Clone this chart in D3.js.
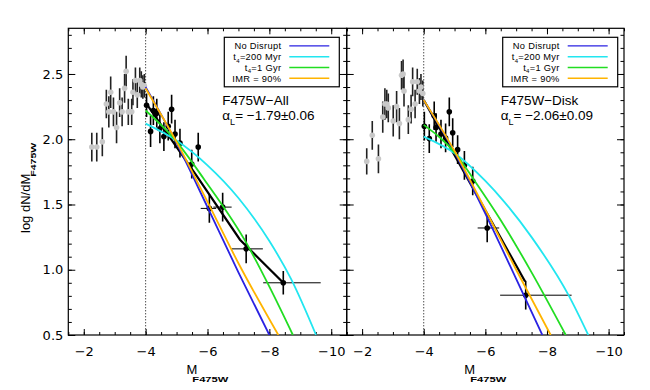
<!DOCTYPE html>
<html>
<head>
<meta charset="utf-8">
<script src="https://cdn.jsdelivr.net/npm/d3@7"></script>
<style>
  body { margin: 0; background: #fff; }
  text { font-family: "Liberation Sans", Arial, sans-serif; fill: #000; }
  .tick text { font-family: "DejaVu Sans", sans-serif; font-size: 13px; }
</style>
</head>
<body>
<div id="chart"></div>
<script>
"use strict";

// ---- axis ticks ----
var xMajorTicks = [-2, -4, -6, -8, -10];
var yMajorTicks = [0.5, 1.0, 1.5, 2.0, 2.5];

// ---- legend ----
var modelLabels = [["No Disrupt"], ["t", "4", "=200 Myr"], ["t", "4", "=1 Gyr"], ["IMR = 90%"]];
var modelColors = ["#2a22e2", "#22e6f0", "#22dd22", "#ffb400"];

// ---- F475W-All panel ----
var allGrayM   = [-2.26, -2.42, -2.60, -2.73, -2.81, -2.87, -2.96, -3.06, -3.16, -3.24, -3.32, -3.37, -3.44, -3.55, -3.59, -3.67, -3.73, -3.81, -3.86, -3.91, -3.96];
var allGrayLog = [1.94, 1.94, 1.98, 2.27, 2.21, 2.36, 2.21, 2.09, 2.28, 2.21, 2.39, 2.52, 2.21, 2.21, 2.36, 2.45, 2.34, 2.45, 2.42, 2.40, 2.41];
var allGrayErr = [0.11, 0.11, 0.11, 0.11, 0.12, 0.12, 0.11, 0.12, 0.11, 0.11, 0.11, 0.12, 0.10, 0.10, 0.10, 0.10, 0.10, 0.10, 0.10, 0.09, 0.09];

var allBlackM   = [-4.03, -4.16, -4.25, -4.36, -4.46, -4.59, -4.73, -4.84, -4.95, -5.11, -5.49, -5.70, -6.06, -6.49, -7.25, -8.45];
var allBlackLog = [2.26, 2.06, 2.22, 2.20, 2.08, 2.02, 2.10, 2.23, 2.04, 1.97, 1.81, 1.94, 1.47, 1.48, 1.16, 0.90];
var allBlackErr = [0.09, 0.12, 0.11, 0.11, 0.11, 0.11, 0.11, 0.11, 0.11, 0.11, 0.11, 0.11, 0.11, 0.11, 0.11, 0.09];
var allBinLo    = [null, null, null, null, null, null, null, null, null, null, null, null, -5.78, -6.19, -6.78, -7.80];
var allBinHi    = [null, null, null, null, null, null, null, null, null, null, null, null, -6.28, -6.78, -7.79, -9.66];

var allFit        = [[-4, 2.28], [-5.65, 1.72], [-7.05, 1.23], [-8.45, 0.90]];
var allNoDisrupt  = [[-4, 2.40], [-5, 1.97], [-6, 1.48], [-7, 0.98], [-8.0, 0.5]];
var allT200Myr    = [[-4, 2.12], [-5, 1.99], [-6, 1.80], [-7, 1.55], [-8, 1.22], [-8.7, 0.93], [-9.51, 0.5]];
var allT1Gyr      = [[-4, 2.22], [-4.9, 2.01], [-5.9, 1.69], [-7.27, 1.20], [-8.0, 0.87], [-8.76, 0.5]];
var allIMR90      = [[-4, 2.39], [-5, 1.98], [-6, 1.52], [-7, 1.05], [-8.29, 0.5]];

// ---- F475W-Disk panel ----
var diskGrayM   = [-2.15, -2.33, -2.53, -2.67, -2.74, -2.80, -2.85, -3.01, -3.12, -3.21, -3.28, -3.33, -3.36, -3.50, -3.59, -3.64, -3.72, -3.79, -3.86, -3.91, -3.97];
var diskGrayLog = [1.83, 2.03, 1.85, 2.17, 2.27, 2.27, 2.24, 2.14, 2.25, 2.12, 2.49, 2.50, 2.37, 2.15, 2.23, 2.44, 2.27, 2.44, 2.37, 2.40, 2.35];
var diskGrayErr = [0.10, 0.11, 0.11, 0.12, 0.12, 0.11, 0.11, 0.12, 0.12, 0.12, 0.11, 0.11, 0.12, 0.11, 0.11, 0.11, 0.11, 0.10, 0.10, 0.10, 0.10];

var diskBlackM   = [-4.02, -4.18, -4.34, -4.40, -4.56, -4.71, -4.83, -4.94, -5.10, -5.32, -5.59, -6.06, -7.31];
var diskBlackLog = [2.10, 2.005, 2.18, 2.09, 2.04, 2.01, 2.21, 2.05, 1.92, 1.80, 1.68, 1.32, 0.805];
var diskBlackErr = [0.11, 0.11, 0.11, 0.11, 0.11, 0.11, 0.11, 0.11, 0.11, 0.11, 0.11, 0.11, 0.11];
var diskBinLo    = [null, null, null, null, null, null, null, null, null, null, null, -5.75, -6.48];
var diskBinHi    = [null, null, null, null, null, null, null, null, null, null, null, -6.45, -8.80];

var diskFit       = [[-4, 2.30], [-7.29, 0.91]];
var diskNoDisrupt = [[-4, 2.30], [-5, 1.90], [-6, 1.43], [-7, 0.93], [-7.85, 0.5]];
var diskT200Myr   = [[-4, 2.02], [-5.05, 1.885], [-6, 1.68], [-6.58, 1.53], [-7.5, 1.25], [-8.7, 0.805], [-9.34, 0.5]];
var diskT1Gyr     = [[-4, 2.11], [-5.05, 1.885], [-5.6, 1.70], [-6.5, 1.38], [-7.5, 0.98], [-8.61, 0.5]];
var diskIMR90     = [[-4, 2.30], [-5, 1.91], [-6, 1.46], [-7, 1.00], [-8.12, 0.5]];

var plotTop = 28.3, plotBottom = 335;

var svg = d3.select("#chart").append("svg")
    .attr("width", 650)
    .attr("height", 390);

var y = d3.scaleLinear().domain([0.5, 2.85]).range([plotBottom, plotTop]);

function range(a, b, step){
    var out = [];
    for (var v = a; v <= b + 1e-9; v += step) out.push(+v.toFixed(2));
    return out;
}
var xMinorTicks = range(-10.5, -1.5, 0.5);
var yMinorTicks = range(0.5, 2.8, 0.1);

function drawPanel(p){
    var x = d3.scaleLinear().domain([-1.5, -10.5]).range([p.left, p.right]);
    var g = svg.append("g");

    g.append("clipPath").attr("id", p.id + "clip")
        .append("rect")
            .attr("x", p.left).attr("y", plotTop)
            .attr("width", p.right - p.left).attr("height", plotBottom - plotTop);

    // axes
    function axisStyle(sel){
        sel.select(".domain").remove();
        sel.selectAll("line").attr("stroke", "#000").attr("stroke-width", 1);
    }
    g.append("g").attr("transform", "translate(0," + plotBottom + ")")
        .call(d3.axisBottom(x).tickValues(xMinorTicks).tickSize(-3).tickFormat(""))
        .call(axisStyle);
    g.append("g").attr("transform", "translate(0," + plotBottom + ")")
        .call(d3.axisBottom(x).tickValues(xMajorTicks).tickSize(-6).tickPadding(12))
        .call(axisStyle);
    g.append("g").attr("transform", "translate(0," + plotTop + ")")
        .call(d3.axisTop(x).tickValues(xMinorTicks).tickSize(-3).tickFormat(""))
        .call(axisStyle);
    g.append("g").attr("transform", "translate(0," + plotTop + ")")
        .call(d3.axisTop(x).tickValues(xMajorTicks).tickSize(-6).tickFormat(""))
        .call(axisStyle);
    g.append("g").attr("transform", "translate(" + p.left + ",0)")
        .call(d3.axisLeft(y).tickValues(yMinorTicks).tickSize(-3.5).tickFormat(""))
        .call(axisStyle);
    g.append("g").attr("transform", "translate(" + p.left + ",0)")
        .call(d3.axisLeft(y).tickValues(yMajorTicks).tickSize(-7).tickPadding(5)
            .tickFormat(p.yLabels ? d3.format(".1f") : ""))
        .call(axisStyle);
    g.append("g").attr("transform", "translate(" + p.right + ",0)")
        .call(d3.axisRight(y).tickValues(yMinorTicks).tickSize(-3.5).tickFormat(""))
        .call(axisStyle);
    g.append("g").attr("transform", "translate(" + p.right + ",0)")
        .call(d3.axisRight(y).tickValues(yMajorTicks).tickSize(-7).tickFormat(""))
        .call(axisStyle);

    g.append("rect")
        .attr("x", p.left).attr("y", plotTop)
        .attr("width", p.right - p.left).attr("height", plotBottom - plotTop)
        .attr("fill", "none").attr("stroke", "#000").attr("stroke-width", 1.2);

    // completeness limit
    g.append("line")
        .attr("x1", x(-4)).attr("x2", x(-4))
        .attr("y1", plotTop).attr("y2", plotBottom)
        .attr("stroke", "#000").attr("stroke-width", 1)
        .attr("stroke-dasharray", "1,2");

    var plot = g.append("g").attr("clip-path", "url(#" + p.id + "clip)");

    // gray points (below limit)
    plot.selectAll("line.gerr").data(p.grayM).enter()
        .append("line")
            .attr("x1", function(d){return x(d);})
            .attr("x2", function(d){return x(d);})
            .attr("y1", function(d, i){return y(p.grayLog[i] - p.grayErr[i]);})
            .attr("y2", function(d, i){return y(p.grayLog[i] + p.grayErr[i]);})
            .attr("stroke", "#222").attr("stroke-width", 1.6);
    plot.selectAll("circle.gray").data(p.grayM).enter()
        .append("circle")
            .attr("cx", function(d){return x(d);})
            .attr("cy", function(d, i){return y(p.grayLog[i]);})
            .attr("r", 2.8)
            .attr("fill", "#c8c8c8");

    // black points
    plot.selectAll("line.berr").data(p.blackM).enter()
        .append("line")
            .attr("x1", function(d){return x(d);})
            .attr("x2", function(d){return x(d);})
            .attr("y1", function(d, i){return y(p.blackLog[i] - p.blackErr[i]);})
            .attr("y2", function(d, i){return y(p.blackLog[i] + p.blackErr[i]);})
            .attr("stroke", "#000").attr("stroke-width", 1.6);
    var binned = d3.range(p.blackM.length).filter(function(i){return p.binLo[i] !== null;});
    plot.selectAll("line.bxerr").data(binned).enter()
        .append("line")
            .attr("x1", function(i){return x(p.binLo[i]);})
            .attr("x2", function(i){return x(p.binHi[i]);})
            .attr("y1", function(i){return y(p.blackLog[i]);})
            .attr("y2", function(i){return y(p.blackLog[i]);})
            .attr("stroke", "#000").attr("stroke-width", 1);
    plot.selectAll("circle.black").data(p.blackM).enter()
        .append("circle")
            .attr("cx", function(d){return x(d);})
            .attr("cy", function(d, i){return y(p.blackLog[i]);})
            .attr("r", 2.8)
            .attr("fill", "#000");

    var fitLine = d3.line()
        .x(function(d){return x(d[0]);})
        .y(function(d){return y(d[1]);});
    var curve = d3.line()
        .x(function(d){return x(d[0]);})
        .y(function(d){return y(d[1]);})
        .curve(d3.curveMonotoneX);

    plot.append("path").attr("d", fitLine(p.fit))
        .attr("fill", "none").attr("stroke", "#000").attr("stroke-width", 2.2);

    p.models.forEach(function(m, i){
        plot.append("path").attr("d", curve(m))
            .attr("fill", "none")
            .attr("stroke", modelColors[i])
            .attr("stroke-width", 1.8);
    });

    // legend
    var lx = p.left + 156, ly = 37.3;
    g.append("rect")
        .attr("x", lx).attr("y", ly)
        .attr("width", 115).attr("height", 49.5)
        .attr("fill", "#fff").attr("stroke", "#000").attr("stroke-width", 1.2);
    modelLabels.forEach(function(lab, i){
        var cy = ly + 8.6 + i * 10.8;
        var t = g.append("text")
            .attr("x", lx + 57).attr("y", cy + 3.3)
            .attr("text-anchor", "end")
            .attr("font-size", 9.3)
            .attr("letter-spacing", 0.3);
        t.append("tspan").text(lab[0]);
        if (lab.length > 1){
            t.append("tspan").attr("dy", 2.5).attr("font-size", 6).text(lab[1]);
            t.append("tspan").attr("dy", -2.5).text(lab[2]);
        }
        g.append("line")
            .attr("x1", lx + 65).attr("x2", lx + 105)
            .attr("y1", cy).attr("y2", cy)
            .attr("stroke", modelColors[i]).attr("stroke-width", 1.4);
    });

    // annotation
    g.append("text")
        .attr("x", p.left + 154).attr("y", 105)
        .attr("font-size", 13.5)
        .text(p.name);
    var a = g.append("text")
        .attr("x", p.left + 154).attr("y", 119.5)
        .attr("font-size", 13.5);
    a.append("tspan").text("\u03b1");
    a.append("tspan").attr("dy", 5).attr("font-size", 9).text("L");
    a.append("tspan").attr("dy", -5).text("=  " + p.slope);

    // x title
    var xt = g.append("text")
        .attr("x", (p.left + p.right) / 2 - 21).attr("y", 374)
        .attr("font-size", 13);
    xt.append("tspan").text("M");
    xt.append("tspan").attr("dy", 8).attr("dx", -5)
        .attr("font-size", 8).attr("font-weight", "bold")
        .attr("textLength", 36).attr("lengthAdjust", "spacingAndGlyphs")
        .text("F475W");
}

drawPanel({
    id: "all", left: 68.3, right: 346.7, yLabels: true,
    name: "F475W\u2212All", slope: "\u22121.79\u00b10.06",
    grayM: allGrayM, grayLog: allGrayLog, grayErr: allGrayErr,
    blackM: allBlackM, blackLog: allBlackLog, blackErr: allBlackErr,
    binLo: allBinLo, binHi: allBinHi,
    fit: allFit,
    models: [allNoDisrupt, allT200Myr, allT1Gyr, allIMR90]
});

drawPanel({
    id: "disk", left: 346.7, right: 624, yLabels: false,
    name: "F475W\u2212Disk", slope: "\u22122.06\u00b10.09",
    grayM: diskGrayM, grayLog: diskGrayLog, grayErr: diskGrayErr,
    blackM: diskBlackM, blackLog: diskBlackLog, blackErr: diskBlackErr,
    binLo: diskBinLo, binHi: diskBinHi,
    fit: diskFit,
    models: [diskNoDisrupt, diskT200Myr, diskT1Gyr, diskIMR90]
});

// y title
var yt = svg.append("text")
    .attr("transform", "translate(29.5,233) rotate(-90)")
    .attr("font-size", 13);
yt.append("tspan").text("log  dN/dM");
yt.append("tspan").attr("dy", 6).attr("dx", -3)
    .attr("font-size", 8).attr("font-weight", "bold")
    .attr("textLength", 34).attr("lengthAdjust", "spacingAndGlyphs")
    .text("F475W");
</script>
</body>
</html>
